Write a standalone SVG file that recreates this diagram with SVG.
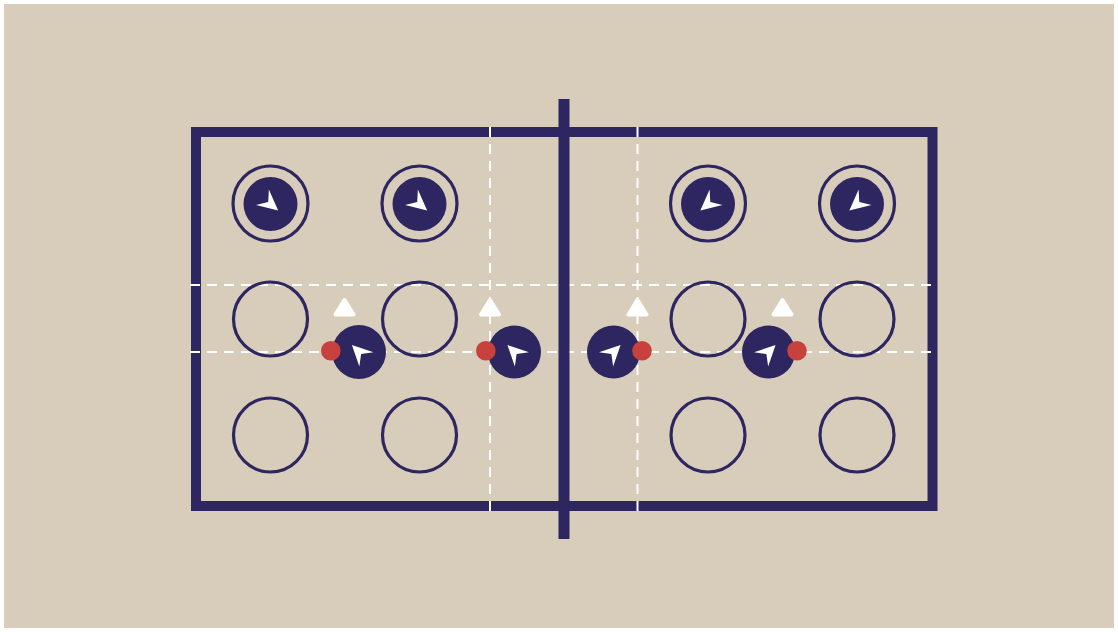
<svg xmlns="http://www.w3.org/2000/svg" width="1118" height="632" viewBox="0 0 1118 632">
<defs>
<style>
.court{fill:none;stroke:#2d2660;stroke-width:10}
.net{stroke:#2d2660;stroke-width:11}
.dash{stroke:#ffffff;stroke-width:2;stroke-dasharray:10 7;fill:none}
.ring{fill:none;stroke:#2d2660;stroke-width:3.2}
.body{fill:#2d2660}
.dart{fill:#ffffff}
.ball{fill:#c8413c}
.tri{fill:#ffffff;stroke:#ffffff;stroke-width:4;stroke-linejoin:round}
</style>
<polygon id="dartShape" points="10,0 -10.5,-10 -3,0 -10.5,10"/>
</defs>
<rect x="0" y="0" width="1118" height="632" fill="#ffffff"/>
<rect x="4" y="4" width="1110" height="624" fill="#d8cdba"/>
<g id="court">
<rect class="court" x="196" y="132" width="736.5" height="374"/>
</g>
<g id="connectors">
<line class="dash" x1="190" y1="285" x2="937" y2="285"/>
<line class="dash" x1="190" y1="352" x2="937" y2="352"/>
<line class="dash" x1="490" y1="127" x2="490" y2="511"/>
<line class="dash" x1="637.5" y1="127" x2="637.5" y2="511"/>
</g>
<g id="net">
<line class="net" x1="564" y1="99" x2="564" y2="539"/>
</g>
<g id="zones">
<circle class="ring" cx="270.5" cy="319" r="37"/>
<circle class="ring" cx="419.5" cy="319" r="37"/>
<circle class="ring" cx="708" cy="319" r="37"/>
<circle class="ring" cx="857" cy="319" r="37"/>
<circle class="ring" cx="270.5" cy="435" r="37"/>
<circle class="ring" cx="419.5" cy="435" r="37"/>
<circle class="ring" cx="708" cy="435" r="37"/>
<circle class="ring" cx="857" cy="435" r="37"/>
</g>
<g id="p1"><circle class="ring" cx="270.5" cy="203.5" r="37.5"/><circle class="body" cx="270.5" cy="204" r="27"/><use href="#dartShape" class="dart" transform="translate(270.5 204) rotate(40)"/></g>
<g id="p2"><circle class="ring" cx="419.5" cy="203.5" r="37.5"/><circle class="body" cx="419.5" cy="204" r="27"/><use href="#dartShape" class="dart" transform="translate(419.5 204) rotate(40)"/></g>
<g id="p3"><circle class="ring" cx="708" cy="203.5" r="37.5"/><circle class="body" cx="708" cy="204" r="27"/><use href="#dartShape" class="dart" transform="translate(708 204) rotate(140)"/></g>
<g id="p4"><circle class="ring" cx="857" cy="203.5" r="37.5"/><circle class="body" cx="857" cy="204" r="27"/><use href="#dartShape" class="dart" transform="translate(857 204) rotate(140)"/></g>
<g id="p5"><polygon class="tri" points="344.5,300 335.5,314.5 353.5,314.5"/><circle class="body" cx="359" cy="352" r="27"/><use href="#dartShape" class="dart" transform="translate(359 352) rotate(-135)"/><circle class="ball" cx="330.8" cy="350.8" r="9.8"/></g>
<g id="p6"><polygon class="tri" points="490,300 481,314.5 499,314.5"/><circle class="body" cx="514.5" cy="352" r="26.5"/><use href="#dartShape" class="dart" transform="translate(514.5 352) rotate(-135)"/><circle class="ball" cx="485.8" cy="350.8" r="9.8"/></g>
<g id="p7"><polygon class="tri" points="637.5,300 628.5,314.5 646.5,314.5"/><circle class="body" cx="613.5" cy="352" r="26.5"/><use href="#dartShape" class="dart" transform="translate(613.5 352) rotate(-45)"/><circle class="ball" cx="642" cy="350.8" r="9.8"/></g>
<g id="p8"><polygon class="tri" points="782.5,300 773.5,314.5 791.5,314.5"/><circle class="body" cx="768.5" cy="352" r="26.5"/><use href="#dartShape" class="dart" transform="translate(768.5 352) rotate(-45)"/><circle class="ball" cx="797" cy="350.8" r="9.8"/></g>
</svg>
